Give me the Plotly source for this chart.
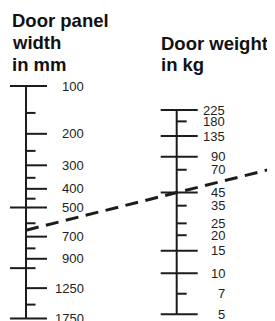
import numpy as np
import plotly.graph_objects as go

# ---------------- data ----------------
width_title = ["Door panel", "width", "in mm"]
weight_title = ["Door weight", "in kg"]

width_labeled = [100, 200, 300, 400, 500, 700, 900, 1250, 1750]
width_minor = [150, 250, 350, 450, 600, 800, 1000, 1500]
width_left_ext = [100, 500, 1000, 1750]

weight_labeled = [225, 180, 135, 90, 70, 45, 35, 25, 20, 15, 10, 7, 5]
weight_long = [225, 135, 90, 45, 15, 10, 5]

reading_width = 650   # mm
reading_weight = 45   # kg

# ---------------- scales (nomogram layout) ----------------
W, H = 275, 321
OFF = 8                        # page body margin compensation
XL, XR = 26.0, 176.7          # x of the two scale axes
LONG, SHORT, EXT = 21.0, 9.5, 16.0

def width_scale(v):
    v = np.asarray(v, dtype=float)
    lo, hi = np.log10(100 + 50), np.log10(1750 + 50)
    return 86.0 + (318.6 - 86.0) * (np.log10(v + 50) - lo) / (hi - lo)

def weight_scale(v):
    v = np.asarray(v, dtype=float)
    lo, hi = np.log10(225 - 1), np.log10(5 - 1)
    return 110.0 + (314.3 - 110.0) * (np.log10(v - 1) - lo) / (hi - lo)

INK = "#1c1c1c"
FONT = "Liberation Sans, Arial, Helvetica, sans-serif"

fig = go.Figure()

def seg_trace(segs):
    xs, ys = [], []
    for (x0, y0, x1, y1) in segs:
        xs += [x0, x1, None]
        ys += [y0, y1, None]
    return go.Scatter(x=xs, y=ys, mode="lines", line=dict(color=INK, width=2),
                      hoverinfo="skip", showlegend=False)

# width scale
segs = []
wl = width_scale([min(width_labeled), max(width_labeled)])
segs.append((XL, float(wl[0]), XL, float(wl[1])))
for v in width_labeled + width_minor:
    y = float(width_scale(v))
    right = LONG if v in width_labeled else SHORT
    left = EXT if v in width_left_ext else 0
    segs.append((XL - left, y, XL + right, y))
fig.add_trace(seg_trace(segs))

# weight scale
segs = []
wr = weight_scale([max(weight_labeled), min(weight_labeled)])
segs.append((XR, float(wr[0]), XR, float(wr[1])))
for v in weight_labeled:
    y = float(weight_scale(v))
    if v in weight_long:
        segs.append((XR - EXT, y, XR + LONG, y))
    else:
        segs.append((XR, y, XR + SHORT + 0.5, y))
fig.add_trace(seg_trace(segs))

# reading line (through both scales, extended to the right)
y1 = float(width_scale(reading_width))
y2 = float(weight_scale(reading_weight))
slope = (y2 - y1) / (XR - XL)
x_end = W + 20
fig.add_trace(go.Scatter(x=[XL, x_end], y=[y1, y1 + slope * (x_end - XL)], mode="lines",
                         line=dict(color=INK, width=3, dash="13px,7.5px"),
                         hoverinfo="skip", showlegend=False))

ann = []
for v in width_labeled:
    ann.append(dict(x=85.5, y=float(width_scale(v)), text=str(v), xanchor="right", yanchor="middle",
                    showarrow=False, font=dict(family=FONT, size=13, color="#222222")))
for v in weight_labeled:
    ann.append(dict(x=226.5, y=float(weight_scale(v)), text=str(v), xanchor="right", yanchor="middle",
                    showarrow=False, font=dict(family=FONT, size=13, color="#222222")))

title_font = dict(family=FONT, size=18.5, color="#111111")
for i, t in enumerate(width_title):
    ann.append(dict(x=10.2, y=20.5 + 22 * i, text="<b>%s</b>" % t, xanchor="left", yanchor="middle",
                    showarrow=False, font=title_font))
for i, t in enumerate(weight_title):
    ann.append(dict(x=159.0, y=43.0 + 21 * i, text="<b>%s</b>" % t, xanchor="left", yanchor="middle",
                    showarrow=False, font=title_font))

fig.update_layout(
    width=W, height=H, margin=dict(l=0, r=0, t=0, b=0),
    paper_bgcolor="white", plot_bgcolor="white",
    xaxis=dict(range=[OFF, W + OFF], visible=False, fixedrange=True),
    yaxis=dict(range=[H + OFF, OFF], visible=False, fixedrange=True),
    annotations=ann, showlegend=False,
)

fig.write_html("out.html")
